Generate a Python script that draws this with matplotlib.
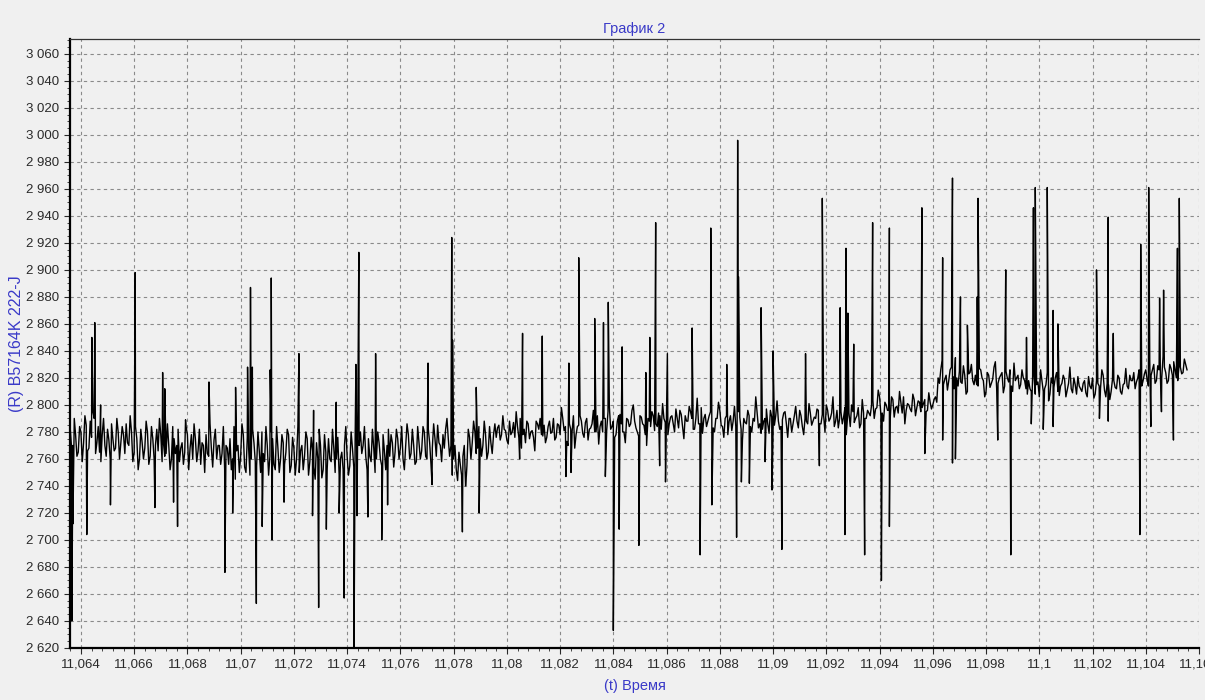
"""
plot.py - recreate "График 2": resistance trace vs time (noisy, with spikes).
"""
import numpy as np
import matplotlib
matplotlib.use('Agg')
import matplotlib.pyplot as plt
from matplotlib.ticker import MultipleLocator, FuncFormatter

# Baseline samples, one row per 0.002 of time, step 0.0001 starting at 11.0636
base_t0 = 11.0636
base_dt = 0.0001
base_v = [
    2782, 2770, 2778, 2765, 2780, 2772, 2785, 2768, 2776, 2790, 2772, 2765, 2778, 2770, 2782, 2760, 2775, 2768, 2780, 2772,
    2778, 2786, 2770, 2780, 2765, 2775, 2760, 2772, 2768, 2780, 2762, 2775, 2770, 2766, 2778, 2772, 2764, 2770, 2760, 2775,
    2770, 2758, 2772, 2765, 2778, 2768, 2760, 2775, 2766, 2756, 2770, 2778, 2762, 2768, 2774, 2760, 2770, 2764, 2752, 2768,
    2775, 2760, 2745, 2770, 2762, 2778, 2750, 2768, 2760, 2772, 2755, 2766, 2780, 2758, 2770, 2762, 2775, 2752, 2768, 2760,
    2772, 2765, 2778, 2755, 2768, 2760, 2750, 2770, 2762, 2775, 2758, 2766, 2745, 2760, 2770, 2752, 2765, 2775, 2758, 2768,
    2760, 2748, 2765, 2770, 2762, 2755, 2768, 2772, 2790, 2780, 2770, 2762, 2775, 2758, 2768, 2760, 2772, 2755, 2766, 2770,
    2762, 2772, 2765, 2775, 2768, 2760, 2770, 2778, 2764, 2770, 2758, 2772, 2766, 2780, 2760, 2772, 2768, 2775, 2785, 2770,
    2778, 2782, 2775, 2770, 2760, 2752, 2765, 2748, 2770, 2755, 2776, 2772, 2780, 2768, 2775, 2770, 2778, 2765, 2772, 2778,
    2776, 2785, 2778, 2782, 2774, 2788, 2780, 2776, 2784, 2790, 2778, 2772, 2786, 2780, 2776, 2788, 2782, 2778, 2785, 2776,
    2788, 2780, 2774, 2786, 2778, 2790, 2784, 2770, 2782, 2792, 2778, 2785, 2788, 2776, 2790, 2782, 2786, 2780, 2792, 2784,
    2780, 2790, 2795, 2782, 2788, 2778, 2792, 2786, 2780, 2790, 2784, 2796, 2788, 2780, 2792, 2786, 2778, 2790, 2784, 2792,
    2786, 2794, 2782, 2790, 2798, 2786, 2792, 2780, 2790, 2796, 2784, 2792, 2788, 2795, 2782, 2790, 2786, 2798, 2790, 2784,
    2792, 2786, 2780, 2790, 2796, 2784, 2790, 2778, 2792, 2788, 2784, 2795, 2782, 2790, 2786, 2792, 2780, 2788, 2794, 2786,
    2782, 2790, 2786, 2796, 2780, 2792, 2788, 2784, 2794, 2786, 2790, 2780, 2792, 2788, 2796, 2784, 2790, 2786, 2794, 2788,
    2790, 2796, 2786, 2792, 2800, 2788, 2794, 2784, 2796, 2790, 2786, 2798, 2792, 2784, 2795, 2790, 2798, 2786, 2794, 2790,
    2794, 2800, 2790, 2798, 2806, 2794, 2802, 2796, 2790, 2804, 2798, 2794, 2802, 2806, 2796, 2800, 2795, 2804, 2798, 2802,
    2798, 2804, 2796, 2802, 2800, 2806, 2820, 2826, 2815, 2822, 2818, 2828, 2812, 2820, 2825, 2816, 2822, 2810, 2824, 2818,
    2822, 2814, 2826, 2818, 2810, 2822, 2816, 2828, 2812, 2820, 2824, 2814, 2820, 2826, 2810, 2818, 2822, 2815, 2820, 2812,
    2818, 2810, 2822, 2815, 2806, 2818, 2812, 2824, 2808, 2816, 2820, 2810, 2814, 2822, 2806, 2816, 2812, 2820, 2808, 2814,
    2810, 2818, 2806, 2814, 2820, 2808, 2816, 2812, 2822, 2806, 2815, 2810, 2818, 2812, 2820, 2808, 2816, 2814, 2822, 2818,
    2812, 2820, 2808, 2818, 2826, 2814, 2822, 2830, 2818, 2826, 2820, 2828, 2816, 2830, 2822, 2826, 2818, 2828, 2824, 2830,
]

# Samples half-way between the baseline samples above
base_v_mid = [
    2768, 2790, 2762, 2784, 2758, 2792, 2766, 2788, 2795, 2764, 2784, 2758, 2790, 2762, 2774, 2786, 2766, 2790, 2760, 2784,
    2764, 2772, 2792, 2758, 2784, 2752, 2782, 2760, 2788, 2756, 2784, 2760, 2782, 2790, 2758, 2762, 2786, 2752, 2784, 2764,
    2782, 2768, 2756, 2784, 2752, 2778, 2786, 2758, 2782, 2772, 2750, 2764, 2786, 2754, 2782, 2770, 2756, 2784, 2770, 2756,
    2752, 2784, 2766, 2750, 2786, 2754, 2776, 2748, 2782, 2758, 2780, 2750, 2764, 2784, 2748, 2780, 2756, 2784, 2750, 2778,
    2756, 2782, 2750, 2776, 2748, 2784, 2766, 2752, 2780, 2748, 2776, 2754, 2772, 2782, 2746, 2778, 2752, 2760, 2782, 2750,
    2776, 2760, 2752, 2784, 2748, 2780, 2754, 2786, 2770, 2764, 2784, 2752, 2762, 2782, 2750, 2780, 2760, 2778, 2752, 2782,
    2778, 2754, 2782, 2760, 2784, 2752, 2786, 2760, 2782, 2756, 2784, 2760, 2784, 2762, 2782, 2756, 2786, 2762, 2772, 2758,
    2768, 2790, 2762, 2748, 2770, 2744, 2756, 2762, 2740, 2782, 2760, 2788, 2764, 2784, 2762, 2788, 2760, 2784, 2764, 2786,
    2783, 2774, 2792, 2781, 2771, 2778, 2787, 2795, 2776, 2768, 2782, 2788, 2775, 2781, 2766, 2786, 2790, 2777, 2772, 2784,
    2779, 2790, 2776, 2785, 2798, 2781, 2773, 2786, 2780, 2768, 2784, 2792, 2779, 2787, 2774, 2783, 2796, 2780, 2771, 2788,
    2790, 2781, 2799, 2784, 2776, 2788, 2793, 2780, 2772, 2789, 2786, 2800, 2783, 2777, 2791, 2785, 2770, 2788, 2795, 2781,
    2784, 2792, 2801, 2787, 2778, 2791, 2786, 2797, 2783, 2793, 2775, 2788, 2799, 2790, 2782, 2805, 2786, 2779, 2793, 2788,
    2795, 2783, 2790, 2802, 2785, 2776, 2792, 2788, 2781, 2799, 2786, 2791, 2774, 2787, 2796, 2784, 2790, 2806, 2783, 2779,
    2788, 2797, 2779, 2791, 2785, 2803, 2782, 2789, 2795, 2776, 2790, 2786, 2799, 2783, 2792, 2778, 2788, 2801, 2785, 2791,
    2797, 2786, 2793, 2780, 2796, 2790, 2806, 2788, 2783, 2795, 2791, 2778, 2794, 2800, 2787, 2792, 2783, 2804, 2790, 2796,
    2792, 2803, 2797, 2811, 2793, 2788, 2800, 2796, 2806, 2791, 2799, 2810, 2794, 2786, 2801, 2797, 2808, 2792, 2803, 2795,
    2801, 2795, 2809, 2797, 2804, 2802, 2816, 2833, 2819, 2811, 2826, 2821, 2835, 2814, 2817, 2829, 2808, 2823, 2830, 2815,
    2815, 2827, 2820, 2806, 2824, 2813, 2819, 2832, 2816, 2822, 2809, 2825, 2817, 2814, 2831, 2820, 2812, 2826, 2818, 2808,
    2812, 2821, 2808, 2817, 2826, 2810, 2815, 2803, 2820, 2813, 2824, 2807, 2816, 2819, 2811, 2828, 2809, 2815, 2821, 2812,
    2816, 2809, 2821, 2812, 2805, 2818, 2814, 2826, 2811, 2816, 2804, 2819, 2813, 2822, 2810, 2815, 2827, 2812, 2818, 2824,
    2817, 2826, 2814, 2823, 2819, 2833, 2826, 2816, 2829, 2821, 2836, 2824, 2818, 2827, 2832, 2820, 2829, 2823, 2834, 2826,
]

# Upward spikes (time, value)
up_t = [11.06441, 11.06452, 11.06474, 11.06604, 11.06707, 11.06715, 11.06793,
        11.06881, 11.06981, 11.07026, 11.07037, 11.07044, 11.07111, 11.07115,
        11.07219, 11.07274, 11.07359, 11.07433, 11.07444, 11.07507, 11.07704,
        11.07793, 11.07796, 11.07885, 11.08059, 11.08133, 11.08233, 11.08270,
        11.08330, 11.08363, 11.08381, 11.08433, 11.08522, 11.08537, 11.08559,
        11.08603, 11.08696, 11.08766, 11.08826, 11.08867, 11.08870, 11.08955,
        11.09000, 11.09122, 11.09185, 11.09252, 11.09274, 11.09281, 11.09303,
        11.09374, 11.09437, 11.09559, 11.09637, 11.09674, 11.09704, 11.09730,
        11.09767, 11.09770, 11.09874, 11.09952, 11.09978, 11.09985, 11.10030,
        11.10052, 11.10070, 11.10215, 11.10259, 11.10278, 11.10381, 11.10411,
        11.10452, 11.10467, 11.10519, 11.10526]
up_v = [2850, 2861, 2800, 2898, 2824, 2812, 2789,
        2817, 2813, 2828, 2887, 2828, 2826, 2894,
        2838, 2796, 2802, 2830, 2913, 2838, 2831,
        2924, 2848, 2813, 2853, 2851, 2831, 2909,
        2864, 2861, 2876, 2843, 2824, 2850, 2935,
        2838, 2857, 2931, 2830, 2996, 2895, 2872,
        2840, 2838, 2953, 2872, 2916, 2868, 2845,
        2935, 2931, 2946, 2909, 2968, 2880, 2859,
        2880, 2953, 2900, 2850, 2946, 2961, 2961,
        2870, 2860, 2900, 2939, 2853, 2919, 2961,
        2879, 2885, 2916, 2953]

# Downward spikes (time, value)
dn_t = [11.06366, 11.06370, 11.06422, 11.06511, 11.06678, 11.06748, 11.06763,
        11.06941, 11.06970, 11.07059, 11.07081, 11.07118, 11.07163, 11.07270,
        11.07293, 11.07322, 11.07370, 11.07389, 11.07426, 11.07437, 11.07478,
        11.07530, 11.07552, 11.07719, 11.07833, 11.07848, 11.07896, 11.08048,
        11.08222, 11.08241, 11.08370, 11.08400, 11.08422, 11.08496, 11.08574,
        11.08596, 11.08726, 11.08770, 11.08863, 11.08881, 11.08911, 11.08970,
        11.08996, 11.09033, 11.09174, 11.09270, 11.09344, 11.09407, 11.09437,
        11.09570, 11.09637, 11.09674, 11.09685, 11.09844, 11.09893, 11.09970,
        11.10015, 11.10052, 11.10226, 11.10259, 11.10378, 11.10419, 11.10459,
        11.10504]
dn_v = [2640, 2712, 2704, 2726, 2724, 2728, 2710,
        2676, 2720, 2653, 2710, 2700, 2728, 2718,
        2650, 2708, 2720, 2657, 2620, 2718, 2717,
        2700, 2726, 2741, 2706, 2748, 2720, 2760,
        2747, 2750, 2747, 2633, 2708, 2696, 2755,
        2743, 2689, 2726, 2702, 2743, 2742, 2758,
        2737, 2693, 2755, 2704, 2689, 2670, 2710,
        2764, 2774, 2757, 2760, 2774, 2689, 2786,
        2782, 2784, 2790, 2788, 2704, 2784, 2795,
        2774]

yticks = list(range(2620, 3061, 20))
xticks = [11.064 + 0.002 * i for i in range(22)]

# Merge baseline and spikes into one time-ordered trace
base_t = base_t0 + base_dt * np.arange(len(base_v))
mid_t = base_t + base_dt / 2
t = np.concatenate([base_t, mid_t, up_t, dn_t])
v = np.concatenate([base_v, base_v_mid, up_v, dn_v])
order = np.argsort(t, kind='stable')
t, v = t[order], v[order]

blue = '#3a3ac8'
bg = '#f0f0f0'
plt.rcParams['font.family'] = ['Liberation Sans', 'DejaVu Sans']

fig = plt.figure(figsize=(12.05, 7.0), dpi=100, facecolor=bg)
ax = fig.add_axes([70 / 1205, 1 - 648 / 700, 1129 / 1205, 609 / 700])
ax.set_facecolor(bg)

ax.plot(t, v, color='black', linewidth=1.0, zorder=3)

ax.set_xlim(11.06359, 11.10541)
ax.set_ylim(2620, 3071)
ax.set_yticks(yticks)
ax.set_xticks(xticks)
ax.xaxis.set_minor_locator(MultipleLocator(0.0004))
ax.yaxis.set_minor_locator(MultipleLocator(5))

ax.yaxis.set_major_formatter(FuncFormatter(lambda y, p: f'{int(round(y)):,}'.replace(',', ' ')))
ax.xaxis.set_major_formatter(
    FuncFormatter(lambda x, p: f'{x:.3f}'.rstrip('0').rstrip('.').replace('.', ',')))

ax.tick_params(axis='both', which='major', labelsize=9.5, colors='#2a2a2a', length=4, width=0.8)
ax.tick_params(axis='both', which='minor', length=2, width=0.6, colors='#2a2a2a')

ax.grid(which='major', color='#8a8a8a', linestyle=(0, (3, 3)), linewidth=0.8)

for side in ('left', 'bottom'):
    ax.spines[side].set_linewidth(1.6)
    ax.spines[side].set_color('black')
ax.spines['top'].set_linewidth(0.9)
ax.spines['top'].set_color('#333333')
ax.spines['right'].set_visible(False)

ax.set_title('График 2', color=blue, fontsize=10.5, pad=4)
ax.set_xlabel('(t) Время', color=blue, fontsize=10.5, labelpad=6)
ax.set_ylabel('(R) B57164K 222-J', color=blue, fontsize=11.5, labelpad=2)

fig.savefig('out.png', dpi=100, facecolor=bg)
plt.close()
